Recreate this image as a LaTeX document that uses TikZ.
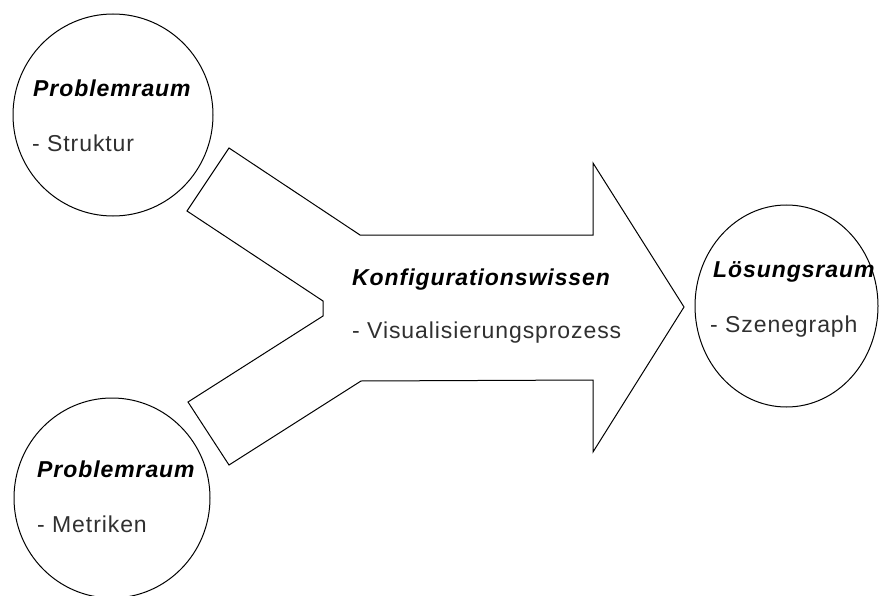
\documentclass[tikz,border=0pt]{standalone}
\usepackage{fontspec}
\setmainfont{Liberation Sans}[LetterSpace=4]
\usetikzlibrary{shapes.geometric}
\definecolor{textgray}{HTML}{303030}
\begin{document}
\begin{tikzpicture}[x=1pt,y=-1pt,
  every node/.style={font=\fontsize{23}{27}\selectfont},
  space/.style={ellipse, draw=black, line width=1pt, inner sep=0pt, fill=white},
  title/.style={anchor=base west, inner sep=0pt, font=\fontsize{23}{27}\selectfont\bfseries\itshape, text=black},
  item/.style={anchor=base west, inner sep=0pt, font=\fontsize{23}{27}\selectfont, text=textgray}]
  \useasboundingbox (0,0) rectangle (880,596);
  \fill[white] (0,0) rectangle (880,596);

  % three spaces
  \node[space, minimum width=200pt, minimum height=202pt] (struktur) at (113,115) {};
  \node[space, minimum width=196pt, minimum height=200pt] (metriken) at (112,498) {};
  \node[space, minimum width=183pt, minimum height=202pt] (loesung) at (786.5,306) {};

  % merging arrow of configuration knowledge
  \draw[line width=1pt, line join=miter, fill=white]
    (229,148) -- (360,235) -- (593,235) -- (593,163) -- (684,307)
    -- (593,452) -- (593,380) -- (361,381) -- (229,465) -- (188,402)
    -- (323,316) -- (323,301) -- (187,211) -- cycle;

  % labels
  \node[title] (t1) at (33,97) {Problemraum};
  \node[item]  (i1) at (32,152) {- Struktur};
  \node[title] (t2) at (37,477) {Problemraum};
  \node[item]  (i2) at (37,532) {- Metriken};
  \node[title] (t3) at (352,285) {Konfigurationswissen};
  \node[item]  (i3) at (352,338) {- Visualisierungsprozess};
  \node[title] (t4) at (713,277) {Lösungsraum};
  \node[item]  (i4) at (710,332) {- Szenegraph};
\end{tikzpicture}
\end{document}
